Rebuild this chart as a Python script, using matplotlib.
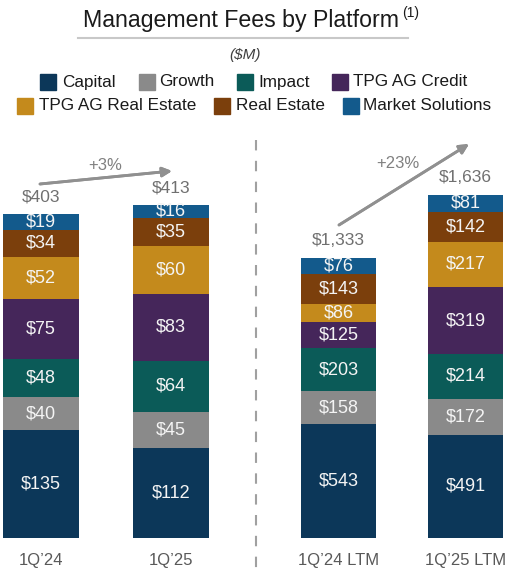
import matplotlib
matplotlib.use("Agg")
import matplotlib.pyplot as plt
from matplotlib.patches import Rectangle
from matplotlib.lines import Line2D

plt.rcParams['font.family'] = ['Liberation Sans', 'DejaVu Sans']

# ---- data ----
categories_left = ["1Q’24", "1Q’25"]
categories_right = ["1Q’24 LTM", "1Q’25 LTM"]
series_names = ["Capital", "Growth", "Impact", "TPG AG Credit",
                "TPG AG Real Estate", "Real Estate", "Market Solutions"]
capital = [135, 112, 543, 491]
growth = [40, 45, 158, 172]
impact = [48, 64, 203, 214]
ag_credit = [75, 83, 125, 319]
ag_real_estate = [52, 60, 86, 217]
real_estate = [34, 35, 143, 142]
market_solutions = [19, 16, 76, 81]
total_labels = ["$403", "$413", "$1,333", "$1,636"]
growth_labels = ["+3%", "+23%"]

series_values = [capital, growth, impact, ag_credit, ag_real_estate,
                 real_estate, market_solutions]
colors = ["#0C3759", "#8A8A8A", "#0B5B58", "#45265A",
          "#C48A1C", "#7B3F0C", "#135A8C"]

W, H = 517, 575
fig = plt.figure(figsize=(W / 100, H / 100), dpi=100)

def fx(px):
    return px / W

def fy(py):
    return 1 - py / H

bottom_px = 538
top_px = 120
# left axes: pixel x 0..256, centers 41, 171
axL = fig.add_axes([fx(0), fy(bottom_px), fx(256), (bottom_px - top_px) / H])
axL.set_xlim(-41 / 130, 1 + 85 / 130)
axL.set_ylim(0, (bottom_px - top_px) / 0.803)
# right axes: pixel x 256..517, centers 338.5, 465.5
axR = fig.add_axes([fx(256), fy(bottom_px), fx(261), (bottom_px - top_px) / H])
axR.set_xlim(-82.5 / 127, 1 + 51.5 / 127)
axR.set_ylim(0, (bottom_px - top_px) / 0.2098)

def draw(ax, idx, cats, width):
    xs = list(range(len(cats)))
    bottoms = [0] * len(cats)
    for vals, col in zip(series_values, colors):
        v = [vals[i] for i in idx]
        ax.bar(xs, v, width=width, bottom=bottoms, color=col, edgecolor='none')
        for x, b, h in zip(xs, bottoms, v):
            ax.text(x, b + h / 2, f"${h}", ha='center', va='center',
                    color='#F4F4F4', fontsize=13)
        bottoms = [b + h for b, h in zip(bottoms, v)]
    for x, b, i in zip(xs, bottoms, idx):
        ax.annotate(total_labels[i], (x, b), xytext=(0, 7), textcoords='offset points',
                    ha='center', va='bottom', color='#707070', fontsize=12.5)
    ax.set_xticks(xs)
    ax.set_xticklabels(cats, color='#595959', fontsize=12)
    ax.tick_params(axis='x', length=0, pad=11)
    ax.set_yticks([])
    for s in ax.spines.values():
        s.set_visible(False)
    ax.patch.set_alpha(0)

draw(axL, [0, 1], categories_left, 76 / 130)
draw(axR, [2, 3], categories_right, 75 / 127)

# growth arrows
arrow_kw = dict(arrowstyle='-|>', color='#909090', lw=2, mutation_scale=14,
                shrinkA=0, shrinkB=0)
fig.add_artist(plt.annotate('', xy=(fx(172), fy(171)), xytext=(fx(40), fy(184)),
                            xycoords='figure fraction', textcoords='figure fraction',
                            arrowprops=arrow_kw))
fig.text(fx(105), fy(166), growth_labels[0], ha='center', va='center',
         color='#808080', fontsize=12)
fig.add_artist(plt.annotate('', xy=(fx(469), fy(144)), xytext=(fx(339), fy(225)),
                            xycoords='figure fraction', textcoords='figure fraction',
                            arrowprops=arrow_kw))
fig.text(fx(398), fy(163), growth_labels[1], ha='center', va='center',
         color='#808080', fontsize=12)

# divider
fig.add_artist(Line2D([fx(256), fx(256)], [fy(140), fy(568)], transform=fig.transFigure,
                      color='#A0A0A0', lw=1.5, linestyle=(0, (5, 5))))

# title
fig.text(fx(241), fy(21), "Management Fees by Platform", ha='center', va='center',
         fontsize=16.7, color='#1A1A1A')
fig.text(fx(402), fy(13), "(1)", ha='left', va='center', fontsize=10, color='#1A1A1A')
fig.add_artist(Line2D([fx(78), fx(408)], [fy(37.5), fy(37.5)], transform=fig.transFigure,
                      color='#C8C8C8', lw=1.5))
fig.text(fx(245), fy(55), "($M)", ha='center', va='center', fontsize=11,
         style='italic', color='#404040')

# legend (manual)
legend_pos = [(40, 82, 62), (139, 82, 159), (237, 82, 258), (332, 82, 353),
              (17, 106, 39), (214, 106, 236), (343, 106, 363)]
sq = 16
for (sx, sy, tx), name, col in zip(legend_pos, series_names, colors):
    fig.add_artist(Rectangle((fx(sx), fy(sy + sq / 2)), fx(sq), sq / H,
                             transform=fig.transFigure, color=col))
    fig.text(fx(tx), fy(sy), name, ha='left', va='center', fontsize=12.3, color='#1A1A1A')

fig.savefig("out.png", dpi=100)
